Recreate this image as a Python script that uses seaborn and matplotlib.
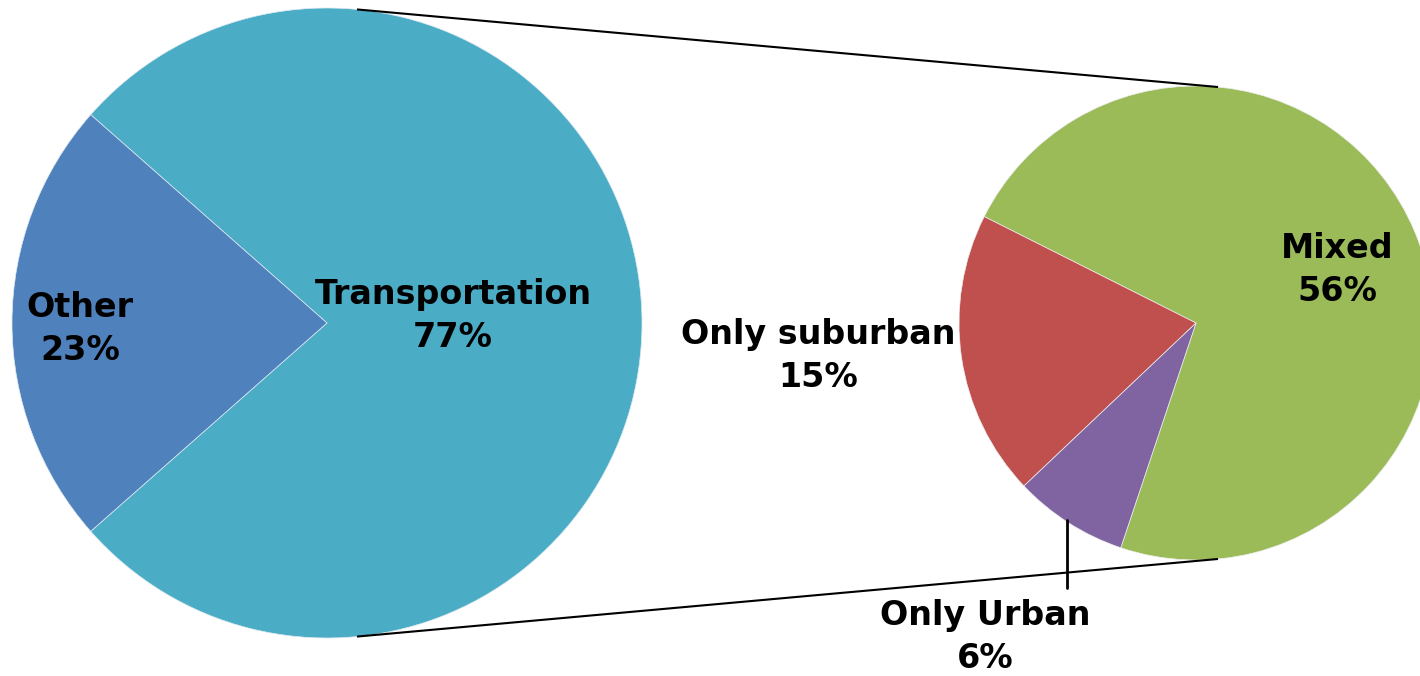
import numpy as np
import matplotlib
matplotlib.use("Agg")
import matplotlib.pyplot as plt
import seaborn as sns

# ---- data ----
main_labels = ["Transportation", "Other"]
main_values = [77, 23]
main_colors = ["#4BACC6", "#4F81BD"]

sub_labels = ["Mixed", "Only suburban", "Only Urban"]
sub_values = [56, 15, 6]
sub_colors = ["#9BBB59", "#C0504D", "#8064A2"]

sns.set_theme(style="white")
plt.rcParams['font.family'] = ['DejaVu Sans']

W, H = 1420, 676
fig = plt.figure(figsize=(W / 100, H / 100), dpi=100)
ax = fig.add_axes([0, 0, 1, 1])
ax.set_xlim(0, W)
ax.set_ylim(0, H)
ax.set_aspect('equal')
ax.axis('off')

# geometry (pixel coordinates, y measured from top)
lc, lr = (327, 323), 315
rc, rr = (1196, 323), 237

other_frac = main_values[1] / sum(main_values)
start_main = 180 + other_frac * 180
ax.pie(main_values, colors=main_colors, startangle=start_main, counterclock=True,
       center=(lc[0], H - lc[1]), radius=lr, frame=True,
       wedgeprops=dict(edgecolor="#dfeaf2", linewidth=0.5))
ax.pie(sub_values, colors=sub_colors, startangle=251.5, counterclock=True,
       center=(rc[0], H - rc[1]), radius=rr, frame=True,
       wedgeprops=dict(edgecolor="#eeeeee", linewidth=0.5))
ax.set_xlim(0, W)
ax.set_ylim(0, H)
ax.axis('off')

# connector lines
x0 = 357
x1 = 1218
yl = np.sqrt(lr**2 - (x0 - lc[0])**2)
yr = np.sqrt(rr**2 - (x1 - rc[0])**2)
ax.plot([x0, x1], [H - (lc[1] - yl), H - (rc[1] - yr)], color="black", lw=1.5, solid_capstyle="butt")
ax.plot([x0, x1], [H - (lc[1] + yl), H - (rc[1] + yr)], color="black", lw=1.5, solid_capstyle="butt")

# leader line for Only Urban
ax.plot([1067, 1067], [H - 520, H - 588], color="black", lw=2)

fs = 24
def label(x, y, name, val):
    ax.text(x, H - y, f"{name}\n{val}%", ha="center", va="center", fontsize=fs,
            fontweight="bold", color="black", linespacing=1.4)

label(80, 329, main_labels[1], main_values[1])
label(453, 316, main_labels[0], main_values[0])
label(1337, 270, sub_labels[0], sub_values[0])
label(818, 356, sub_labels[1], sub_values[1])
label(985, 637, sub_labels[2], sub_values[2])

fig.savefig("out.png", dpi=100)
